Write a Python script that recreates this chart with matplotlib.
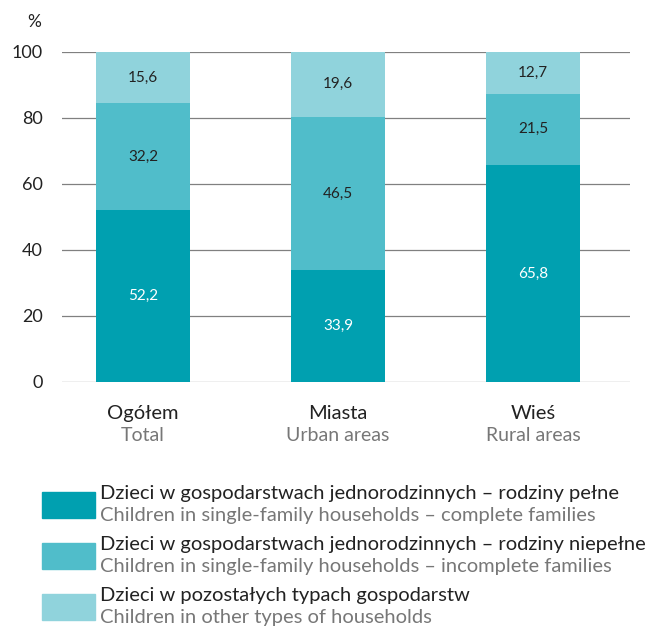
import numpy as np
import matplotlib
matplotlib.use("Agg")
import matplotlib.pyplot as plt
from matplotlib.patches import Rectangle

plt.rcParams['font.family'] = ['Lato', 'DejaVu Sans']

categories_pl = ["Ogółem", "Miasta", "Wieś"]
categories_en = ["Total", "Urban areas", "Rural areas"]
complete = [52.2, 33.9, 65.8]
incomplete = [32.2, 46.5, 21.5]
other = [15.6, 19.6, 12.7]
value_labels = [["52,2", "33,9", "65,8"],
                ["32,2", "46,5", "21,5"],
                ["15,6", "19,6", "12,7"]]
series_pl = ["Dzieci w gospodarstwach jednorodzinnych – rodziny pełne",
             "Dzieci w gospodarstwach jednorodzinnych – rodziny niepełne",
             "Dzieci w pozostałych typach gospodarstw"]
series_en = ["Children in single-family households – complete families",
             "Children in single-family households – incomplete families",
             "Children in other types of households"]
colors = ["#00a0b0", "#50bdca", "#90d3dc"]
text_colors = ["white", "#222222", "#222222"]

W, H = 653, 627
fig = plt.figure(figsize=(W / 100, H / 100), dpi=100)
ax = fig.add_axes([62 / W, 1 - 382 / H, 568 / W, 330 / H])

x = np.arange(len(categories_pl))
bottom = np.zeros(len(x))
for vals, col, labs, tc in zip([complete, incomplete, other], colors, value_labels, text_colors):
    ax.bar(x, vals, width=0.48, bottom=bottom, color=col, zorder=3)
    for xi, b, v, lab in zip(x, bottom, vals, labs):
        ax.text(xi, b + v / 2, lab, ha="center", va="center", fontsize=11, color=tc, zorder=4)
    bottom += vals

ax.set_xlim(-0.415, 2.497)
ax.set_ylim(0, 100)
ax.set_yticks([0, 20, 40, 60, 80, 100])
for y in [0, 20, 40, 60, 80, 100]:
    ax.axhline(y, color="#808080", lw=0.9, zorder=1)
for s in ax.spines.values():
    s.set_visible(False)
ax.tick_params(axis="y", length=0, labelsize=13, pad=14, labelcolor="#222222")
ax.set_xticks([])
ax.text(-0.037, 1.091, "%", transform=ax.transAxes, fontsize=12.5, color="#222222",
        ha="right", va="center")

for xi, pl, en in zip(x, categories_pl, categories_en):
    ax.text(xi, -9.4, pl, ha="center", va="center", fontsize=14.5, color="#222222")
    ax.text(xi, -16.2, en, ha="center", va="center", fontsize=14, color="#777777")

for i, (pl, en, col) in enumerate(zip(series_pl, series_en, colors)):
    top = 492 + i * 51
    fig.patches.append(Rectangle((42 / W, 1 - (top + 26) / H), 53 / W, 26 / H,
                                 transform=fig.transFigure, color=col))
    fig.text(100 / W, 1 - (top + 7) / H, pl, fontsize=14.5, color="#222222", va="baseline")
    fig.text(100 / W, 1 - (top + 29) / H, en, fontsize=14.5, color="#777777", va="baseline")

fig.savefig("out.png", dpi=100)
